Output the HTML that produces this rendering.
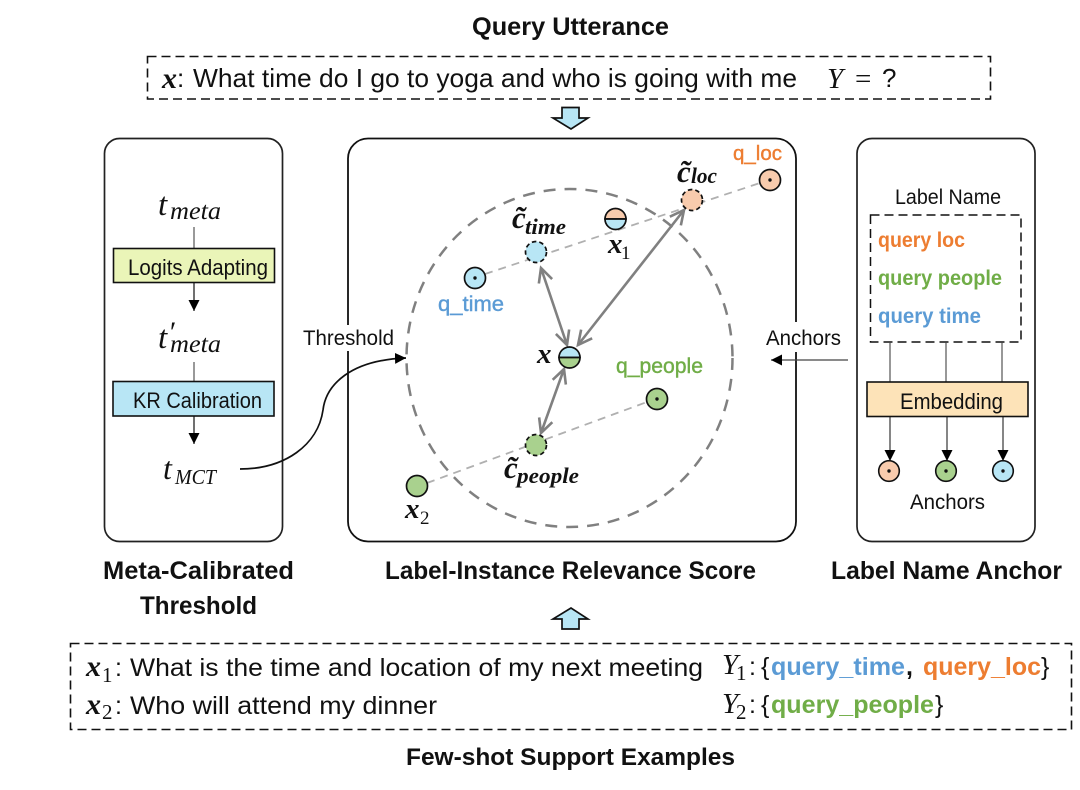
<!DOCTYPE html>
<html><head><meta charset="utf-8"><style>
html,body{margin:0;padding:0;background:#fff}
svg{display:block}
text{font-family:"Liberation Sans",sans-serif;fill:#111}
.m,.m2{font-family:"Liberation Serif",serif}
.m{font-style:italic}
.b{font-weight:bold}
</style></head><body>
<svg width="1080" height="790" viewBox="0 0 1080 790" xmlns="http://www.w3.org/2000/svg">
<defs>
<marker id="ah2" markerWidth="12" markerHeight="12" refX="11" refY="6" orient="auto" markerUnits="userSpaceOnUse"><path d="M0 0.5L11 6L0 11.5z" fill="#000"/></marker>
<marker id="g" markerWidth="18" markerHeight="18" refX="15" refY="9" orient="auto-start-reverse" markerUnits="userSpaceOnUse"><path d="M1 2L15 9L1 16" fill="none" stroke="#808080" stroke-width="2.6"/></marker>
</defs>

<text x="472" y="35" font-size="25" class="b" textLength="197" lengthAdjust="spacingAndGlyphs">Query Utterance</text>
<rect x="147.5" y="56.5" width="843" height="42.5" fill="none" stroke="#111" stroke-width="1.6" stroke-dasharray="9 5"/>
<text x="162" y="88" font-size="30" class="m b">x</text>
<text x="177" y="87" font-size="26">:</text>
<text x="193" y="87" font-size="26" textLength="604" lengthAdjust="spacingAndGlyphs">What time do I go to yoga and who is going with me</text>
<text x="827" y="88" font-size="29" class="m">Y</text>
<text x="855" y="88" font-size="29" class="m2">=</text>
<text x="882" y="87" font-size="26">?</text>
<path d="M562 107.500H579V118H588L571 129L553 118H562Z" fill="#b8e6f5" stroke="#111" stroke-width="1.7"/>

<rect x="104.500" y="138.500" width="178" height="403" rx="15" fill="#fff" stroke="#222" stroke-width="1.7"/>
<rect x="348" y="138.500" width="448" height="403" rx="20" fill="#fff" stroke="#111" stroke-width="1.8"/>
<rect x="857" y="138.500" width="178" height="403" rx="15" fill="#fff" stroke="#222" stroke-width="1.7"/>

<!-- left panel -->
<text x="158" y="215" font-size="33" class="m">t</text>
<text x="170" y="219" font-size="25" class="m" textLength="51" lengthAdjust="spacingAndGlyphs">meta</text>
<line x1="194" y1="227" x2="194" y2="248" stroke="#333"/>
<rect x="113.500" y="248.500" width="161" height="34" fill="#eaf5b8" stroke="#111" stroke-width="1.6"/>
<text x="128" y="275" font-size="22" textLength="140" lengthAdjust="spacingAndGlyphs">Logits Adapting</text>
<line x1="194" y1="283" x2="194" y2="311" stroke="#111" stroke-width="1.2" marker-end="url(#ah2)"/>
<text x="158" y="348" font-size="33" class="m">t</text>
<text x="168" y="342" font-size="30" class="m">′</text>
<text x="170" y="352" font-size="25" class="m" textLength="51" lengthAdjust="spacingAndGlyphs">meta</text>
<line x1="194" y1="362" x2="194" y2="381" stroke="#333"/>
<rect x="113" y="381.500" width="161" height="34.500" fill="#b8e6f5" stroke="#111" stroke-width="1.6"/>
<text x="133" y="408" font-size="22" textLength="129" lengthAdjust="spacingAndGlyphs">KR Calibration</text>
<line x1="194" y1="416" x2="194" y2="444" stroke="#111" stroke-width="1.2" marker-end="url(#ah2)"/>
<text x="163" y="479" font-size="32" class="m">t</text>
<text x="175" y="484" font-size="21" class="m" textLength="41" lengthAdjust="spacingAndGlyphs">MCT</text>
<path d="M240 469C285 469 318 445 323 410C326 385 350 360 406 358" fill="none" stroke="#111" stroke-width="1.7" marker-end="url(#ah2)"/>

<rect x="296" y="325" width="102" height="26" fill="#fff"/>
<text x="303" y="345" font-size="21" textLength="91" lengthAdjust="spacingAndGlyphs">Threshold</text>

<!-- centre -->
<ellipse cx="569.500" cy="358" rx="163" ry="169" fill="none" stroke="#808080" stroke-width="2.500" stroke-dasharray="12 9"/>
<g stroke="#b0b0b0" stroke-width="1.800" stroke-dasharray="8 6" fill="none">
<line x1="485" y1="274" x2="760" y2="183"/>
<line x1="427" y1="483" x2="647" y2="402"/>
</g>
<g stroke="#808080" stroke-width="2.600" fill="none">
<line x1="541" y1="268" x2="567" y2="345" marker-start="url(#g)" marker-end="url(#g)"/>
<line x1="684" y1="210" x2="578" y2="345" marker-start="url(#g)" marker-end="url(#g)"/>
<line x1="564" y1="369" x2="541" y2="433" marker-start="url(#g)" marker-end="url(#g)"/>
</g>

<!-- nodes -->
<g stroke="#111" stroke-width="1.700">
<circle cx="770" cy="180" r="10.500" fill="#f8cbad"/>
<circle cx="475" cy="278" r="10.500" fill="#b8e6f5"/>
<circle cx="657" cy="399" r="10.500" fill="#a9d18e"/>
<circle cx="417" cy="486" r="10.500" fill="#a9d18e"/>
<circle cx="692" cy="200" r="10.500" fill="#f8cbad" stroke-dasharray="4.500 3"/>
<circle cx="536" cy="252" r="10.500" fill="#b8e6f5" stroke-dasharray="4.500 3"/>
<circle cx="536" cy="445" r="10.500" fill="#a9d18e" stroke-dasharray="4.500 3"/>
<path d="M605 219a10.500 10.500 0 0 1 21 0z" fill="#f8cbad"/>
<path d="M605 219a10.500 10.500 0 0 0 21 0z" fill="#b8e6f5"/>
<path d="M559 357.500a10.500 10.500 0 0 1 21 0z" fill="#b8e6f5"/>
<path d="M559 357.500a10.500 10.500 0 0 0 21 0z" fill="#a9d18e"/>
</g>
<circle cx="770" cy="180" r="1.700" fill="#111"/>
<circle cx="475" cy="278" r="1.700" fill="#111"/>
<circle cx="657" cy="399" r="1.700" fill="#111"/>

<text x="733" y="160" font-size="20" style="fill:#ed7d31;stroke:#ed7d31;stroke-width:.4" textLength="49" lengthAdjust="spacingAndGlyphs">q_loc</text>
<text x="438" y="311" font-size="21" style="fill:#5b9bd5;stroke:#5b9bd5;stroke-width:.4" textLength="66" lengthAdjust="spacingAndGlyphs">q_time</text>
<text x="616" y="373" font-size="21" style="fill:#70ad47;stroke:#70ad47;stroke-width:.4" textLength="87" lengthAdjust="spacingAndGlyphs">q_people</text>

<text x="677" y="182" font-size="31" class="m b">c̃</text>
<text x="691" y="183" font-size="22" class="m b" textLength="26" lengthAdjust="spacingAndGlyphs">loc</text>
<text x="512" y="228" font-size="31" class="m b">c̃</text>
<text x="525" y="234" font-size="22" class="m b" textLength="41" lengthAdjust="spacingAndGlyphs">time</text>
<text x="504" y="478" font-size="31" class="m b">c̃</text>
<text x="517" y="483" font-size="22" class="m b" textLength="62" lengthAdjust="spacingAndGlyphs">people</text>
<text x="608" y="253" font-size="29" class="m b">x</text>
<text x="621" y="259" font-size="19" class="m2">1</text>
<text x="537" y="363" font-size="29" class="m b">x</text>
<text x="405" y="518" font-size="29" class="m b">x</text>
<text x="420" y="524" font-size="19" class="m2">2</text>

<!-- right panel -->
<text x="895" y="204" font-size="21" textLength="106" lengthAdjust="spacingAndGlyphs">Label Name</text>
<rect x="870.500" y="215" width="150.500" height="127" fill="none" stroke="#111" stroke-width="1.500" stroke-dasharray="9 5"/>
<text x="878" y="247" font-size="21" class="b" style="fill:#ed7d31" textLength="87" lengthAdjust="spacingAndGlyphs">query loc</text>
<text x="878" y="285" font-size="21" class="b" style="fill:#70ad47" textLength="124" lengthAdjust="spacingAndGlyphs">query people</text>
<text x="878" y="323" font-size="21" class="b" style="fill:#5b9bd5" textLength="103" lengthAdjust="spacingAndGlyphs">query time</text>
<g stroke="#444" stroke-width="1.100">
<line x1="890" y1="342" x2="890" y2="382"/>
<line x1="946" y1="342" x2="946" y2="382"/>
<line x1="1002" y1="342" x2="1002" y2="382"/>
</g>
<rect x="867" y="382" width="161" height="34.500" fill="#fde3b8" stroke="#111" stroke-width="1.600"/>
<text x="900" y="409" font-size="22" textLength="103" lengthAdjust="spacingAndGlyphs">Embedding</text>
<g stroke="#222" stroke-width="1.100">
<line x1="890" y1="417" x2="890" y2="461" marker-end="url(#ah2)"/>
<line x1="947" y1="417" x2="947" y2="461" marker-end="url(#ah2)"/>
<line x1="1003" y1="417" x2="1003" y2="461" marker-end="url(#ah2)"/>
</g>
<g stroke="#111" stroke-width="1.600">
<circle cx="889" cy="471" r="10.300" fill="#f8cbad"/>
<circle cx="946" cy="471" r="10.300" fill="#a9d18e"/>
<circle cx="1003" cy="471" r="10.300" fill="#b8e6f5"/>
</g>
<circle cx="889" cy="471" r="1.700" fill="#111"/><circle cx="946" cy="471" r="1.700" fill="#111"/><circle cx="1003" cy="471" r="1.700" fill="#111"/>
<text x="910" y="509" font-size="21" textLength="75" lengthAdjust="spacingAndGlyphs">Anchors</text>

<rect x="760" y="322" width="90" height="30" fill="#fff"/>
<text x="766" y="345" font-size="21" textLength="75" lengthAdjust="spacingAndGlyphs">Anchors</text>
<line x1="848" y1="360" x2="771" y2="360" stroke="#444" stroke-width="1.200" marker-end="url(#ah2)"/>

<!-- titles -->
<text x="103" y="579" font-size="25" class="b" textLength="191" lengthAdjust="spacingAndGlyphs">Meta-Calibrated</text>
<text x="140" y="614" font-size="25" class="b" textLength="117" lengthAdjust="spacingAndGlyphs">Threshold</text>
<text x="385" y="579" font-size="25" class="b" textLength="371" lengthAdjust="spacingAndGlyphs">Label-Instance Relevance Score</text>
<text x="831" y="579" font-size="25" class="b" textLength="231" lengthAdjust="spacingAndGlyphs">Label Name Anchor</text>

<path d="M562 629V619H553L571 608L588 619H579V629Z" fill="#b8e6f5" stroke="#111" stroke-width="1.700"/>

<!-- bottom -->
<rect x="70.500" y="643.500" width="1001" height="86" fill="none" stroke="#111" stroke-width="1.600" stroke-dasharray="9 5"/>
<text x="86" y="676" font-size="30" class="m b">x</text>
<text x="102" y="682" font-size="21" class="m2">1</text>
<text x="115" y="676" font-size="25">:</text>
<text x="130" y="676" font-size="25" textLength="573" lengthAdjust="spacingAndGlyphs">What is the time and location of my next meeting</text>
<text x="722" y="674" font-size="29" class="m">Y</text>
<text x="736" y="680" font-size="21" class="m2">1</text>
<text x="749" y="675" font-size="25">:</text>
<text x="761" y="675" font-size="25">{</text>
<text x="771" y="675" font-size="25" class="b" style="fill:#5b9bd5" textLength="134" lengthAdjust="spacingAndGlyphs">query_time</text>
<text x="906" y="675" font-size="25" class="b">,</text>
<text x="923" y="675" font-size="25" class="b" style="fill:#ed7d31" textLength="118" lengthAdjust="spacingAndGlyphs">query_loc</text>
<text x="1041" y="675" font-size="25">}</text>

<text x="86" y="714" font-size="30" class="m b">x</text>
<text x="102" y="719" font-size="21" class="m2">2</text>
<text x="115" y="714" font-size="25">:</text>
<text x="130" y="714" font-size="25" textLength="307" lengthAdjust="spacingAndGlyphs">Who will attend my dinner</text>
<text x="722" y="713" font-size="29" class="m">Y</text>
<text x="736" y="719" font-size="21" class="m2">2</text>
<text x="749" y="713" font-size="25">:</text>
<text x="761" y="713" font-size="25">{</text>
<text x="771" y="713" font-size="25" class="b" style="fill:#70ad47" textLength="163" lengthAdjust="spacingAndGlyphs">query_people</text>
<text x="935" y="713" font-size="25">}</text>

<text x="406" y="765" font-size="24" class="b" textLength="329" lengthAdjust="spacingAndGlyphs">Few-shot Support Examples</text>
</svg>
</body></html>
